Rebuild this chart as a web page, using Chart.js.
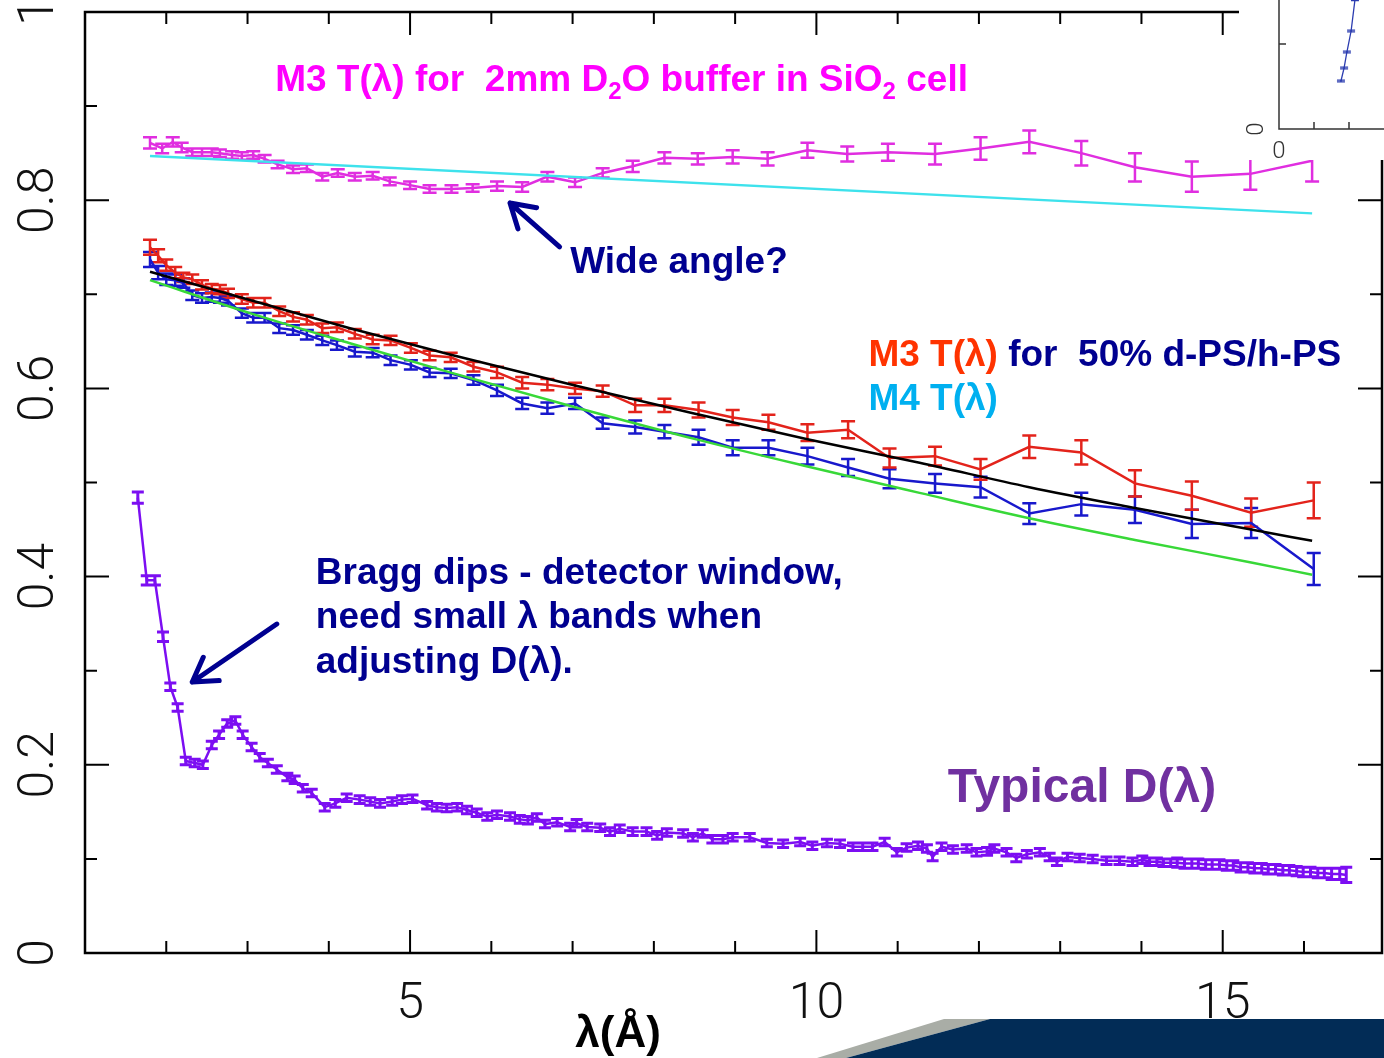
<!DOCTYPE html>
<html>
<head>
<meta charset="utf-8">
<title>T(λ) and D(λ)</title>
<script src="https://cdn.jsdelivr.net/npm/chart.js@4.4.0/dist/chart.umd.min.js"></script>
<style>
  html, body { margin: 0; padding: 0; background: #fff; overflow: hidden; }
  #wrap { position: relative; width: 1384px; height: 1058px; overflow: hidden; }
  #main { position: absolute; left: 0; top: 0; }
  #inset { position: absolute; left: 1239px; top: 0; }
</style>
</head>
<body>
<div id="wrap">
  <canvas id="main" width="1384" height="1058"></canvas>
  <canvas id="inset" width="145" height="160"></canvas>
</div>
<script>
// M3 T(lambda), 2mm D2O buffer in SiO2 cell
const lambdaD2O = [1.80, 1.95, 2.08, 2.19, 2.32, 2.44, 2.56, 2.66, 2.81, 2.93, 3.07, 3.21, 3.37, 3.56, 3.73, 3.92, 4.11, 4.32, 4.54, 4.75,
  5.00, 5.24, 5.51, 5.77, 6.07, 6.38, 6.69, 7.03, 7.37, 7.74, 8.13, 8.54, 8.97, 9.40, 9.89, 10.38, 10.88, 11.46, 12.02, 12.62,
  13.26, 13.92, 14.62, 15.34, 16.10];
const tD2O = [0.861, 0.855, 0.862, 0.856, 0.851, 0.851, 0.851, 0.850, 0.848, 0.847, 0.848, 0.844, 0.838, 0.833, 0.834, 0.825, 0.829, 0.825, 0.826, 0.820,
  0.816, 0.812, 0.812, 0.813, 0.815, 0.814, 0.825, 0.819, 0.829, 0.836, 0.845, 0.844, 0.846, 0.844, 0.853, 0.849, 0.851, 0.849, 0.855, 0.862,
  0.850, 0.835, 0.825, 0.828, 0.842];
const errD2O = [0.006, 0.005, 0.005, 0.005, 0.004, 0.004, 0.004, 0.004, 0.004, 0.004, 0.004, 0.004, 0.004, 0.004, 0.004, 0.004, 0.004, 0.004, 0.004, 0.004,
  0.004, 0.004, 0.004, 0.004, 0.005, 0.005, 0.005, 0.005, 0.005, 0.006, 0.006, 0.006, 0.007, 0.007, 0.008, 0.008, 0.009, 0.011, 0.012, 0.012,
  0.013, 0.015, 0.016, 0.017, 0.022];

// 50% d-PS/h-PS: M3 (red) and M4 (blue)
const lambdaPS = [1.80, 1.90, 2.00, 2.11, 2.21, 2.32, 2.44, 2.56, 2.66, 2.76, 2.93, 3.07, 3.21, 3.39, 3.56, 3.73, 3.92, 4.10, 4.32, 4.54,
  4.76, 5.01, 5.24, 5.50, 5.78, 6.07, 6.38, 6.69, 7.03, 7.37, 7.77, 8.13, 8.55, 8.97, 9.41, 9.89, 10.39, 10.90, 11.46, 12.02,
  12.62, 13.26, 13.92, 14.62, 15.35, 16.12];
const tM3 = [0.750, 0.741, 0.731, 0.723, 0.718, 0.716, 0.710, 0.706, 0.705, 0.701, 0.695, 0.691, 0.691, 0.682, 0.676, 0.673, 0.664, 0.665, 0.658, 0.652,
  0.651, 0.643, 0.635, 0.633, 0.623, 0.617, 0.606, 0.604, 0.600, 0.597, 0.582, 0.582, 0.577, 0.569, 0.564, 0.553, 0.556, 0.526, 0.528, 0.514,
  0.538, 0.532, 0.499, 0.486, 0.468, 0.481];
const errM3 = [0.008, 0.007, 0.006, 0.006, 0.005, 0.005, 0.005, 0.005, 0.005, 0.005, 0.005, 0.005, 0.005, 0.005, 0.005, 0.005, 0.005, 0.005, 0.005, 0.005,
  0.005, 0.005, 0.005, 0.005, 0.005, 0.006, 0.006, 0.006, 0.006, 0.006, 0.007, 0.007, 0.008, 0.008, 0.008, 0.009, 0.009, 0.010, 0.010, 0.011,
  0.012, 0.013, 0.014, 0.015, 0.015, 0.019];
const tM4 = [0.737, 0.723, 0.716, 0.715, 0.712, 0.699, 0.696, 0.697, 0.696, 0.693, 0.680, 0.675, 0.675, 0.664, 0.662, 0.657, 0.651, 0.646, 0.639, 0.638,
  0.630, 0.625, 0.617, 0.616, 0.609, 0.598, 0.584, 0.579, 0.584, 0.563, 0.559, 0.554, 0.548, 0.537, 0.537, 0.528, 0.516, 0.504, 0.499, 0.495,
  0.467, 0.477, 0.471, 0.456, 0.457, 0.408];
const errM4 = [0.008, 0.007, 0.006, 0.006, 0.005, 0.005, 0.005, 0.005, 0.005, 0.005, 0.005, 0.005, 0.005, 0.005, 0.005, 0.005, 0.005, 0.005, 0.005, 0.005,
  0.005, 0.005, 0.005, 0.005, 0.005, 0.006, 0.006, 0.006, 0.006, 0.006, 0.007, 0.007, 0.008, 0.008, 0.008, 0.009, 0.009, 0.010, 0.010, 0.011,
  0.011, 0.012, 0.014, 0.015, 0.016, 0.017];

// fitted curves
const lambdaFit = [1.80, 3.03, 4.26, 5.49, 7.03, 8.56, 9.89, 11.27, 12.62, 13.92, 15.35, 16.10];
const fitBlack = [0.724, 0.694, 0.664, 0.636, 0.603, 0.572, 0.546, 0.521, 0.495, 0.473, 0.450, 0.438];
const fitGreen = [0.715, 0.680, 0.648, 0.617, 0.580, 0.545, 0.517, 0.489, 0.462, 0.439, 0.415, 0.402];
const lambdaCyan = [1.80, 16.10];
const fitCyan = [0.847, 0.786];

// typical detector efficiency D(lambda)
const lambdaD = [1.65, 1.76, 1.86, 1.96, 2.05, 2.14, 2.24, 2.35, 2.45, 2.56, 2.65, 2.75, 2.85, 2.94, 3.05, 3.15, 3.25, 3.36, 3.49, 3.58,
  3.68, 3.79, 3.95, 4.08, 4.22, 4.38, 4.51, 4.63, 4.78, 4.90, 5.03, 5.21, 5.33, 5.45, 5.58, 5.70, 5.82, 5.95, 6.07, 6.23,
  6.35, 6.45, 6.56, 6.66, 6.81, 6.97, 7.05, 7.18, 7.34, 7.46, 7.58, 7.74, 7.91, 8.04, 8.16, 8.36, 8.48, 8.60, 8.72, 8.85,
  8.97, 9.18, 9.39, 9.59, 9.80, 9.95, 10.13, 10.29, 10.45, 10.57, 10.69, 10.84, 10.99, 11.11, 11.25, 11.36, 11.43, 11.54, 11.68, 11.85,
  11.97, 12.10, 12.19, 12.34, 12.46, 12.59, 12.75, 12.87, 12.96, 13.09, 13.24, 13.40, 13.57, 13.73, 13.89, 14.01, 14.10, 14.19, 14.27, 14.36,
  14.44, 14.53, 14.62, 14.70, 14.79, 14.87, 14.96, 15.05, 15.13, 15.22, 15.31, 15.39, 15.48, 15.56, 15.65, 15.74, 15.82, 15.91, 15.99, 16.08,
  16.17, 16.25, 16.34, 16.44, 16.52];
const valD = [0.484, 0.396, 0.396, 0.336, 0.283, 0.261, 0.204, 0.202, 0.200, 0.221, 0.232, 0.244, 0.247, 0.232, 0.219, 0.208, 0.202, 0.195, 0.187, 0.184,
  0.175, 0.170, 0.155, 0.159, 0.165, 0.163, 0.161, 0.159, 0.161, 0.163, 0.164, 0.157, 0.155, 0.154, 0.155, 0.152, 0.149, 0.145, 0.147, 0.145,
  0.142, 0.141, 0.144, 0.137, 0.139, 0.134, 0.138, 0.134, 0.133, 0.129, 0.132, 0.129, 0.129, 0.125, 0.128, 0.127, 0.123, 0.127, 0.121, 0.121,
  0.123, 0.123, 0.117, 0.116, 0.118, 0.114, 0.117, 0.116, 0.113, 0.113, 0.113, 0.118, 0.107, 0.112, 0.114, 0.111, 0.102, 0.113, 0.110, 0.111,
  0.107, 0.108, 0.111, 0.107, 0.101, 0.105, 0.107, 0.102, 0.097, 0.102, 0.101, 0.100, 0.098, 0.098, 0.097, 0.099, 0.097, 0.097, 0.096, 0.096,
  0.096, 0.095, 0.095, 0.095, 0.094, 0.094, 0.094, 0.093, 0.093, 0.091, 0.091, 0.090, 0.090, 0.089, 0.089, 0.088, 0.088, 0.087, 0.086, 0.086,
  0.085, 0.085, 0.084, 0.084, 0.083];
const errD = [0.006, 0.005, 0.005, 0.005, 0.004, 0.004, 0.004, 0.004, 0.004, 0.004, 0.004, 0.004, 0.004, 0.004, 0.004, 0.004, 0.004, 0.004, 0.004, 0.004,
  0.004, 0.004, 0.004, 0.004, 0.004, 0.004, 0.004, 0.004, 0.004, 0.004, 0.004, 0.004, 0.004, 0.004, 0.004, 0.004, 0.004, 0.004, 0.004, 0.004,
  0.004, 0.004, 0.004, 0.004, 0.004, 0.004, 0.004, 0.004, 0.004, 0.004, 0.004, 0.004, 0.004, 0.004, 0.004, 0.004, 0.004, 0.004, 0.004, 0.004,
  0.004, 0.004, 0.004, 0.004, 0.004, 0.004, 0.004, 0.004, 0.004, 0.004, 0.004, 0.004, 0.004, 0.004, 0.004, 0.004, 0.004, 0.004, 0.004, 0.004,
  0.004, 0.004, 0.004, 0.004, 0.004, 0.004, 0.004, 0.004, 0.004, 0.004, 0.004, 0.004, 0.004, 0.004, 0.004, 0.004, 0.004, 0.004, 0.004, 0.004,
  0.005, 0.005, 0.005, 0.005, 0.005, 0.005, 0.005, 0.005, 0.005, 0.005, 0.005, 0.005, 0.005, 0.005, 0.005, 0.005, 0.005, 0.005, 0.005, 0.005,
  0.005, 0.005, 0.006, 0.006, 0.008];

// axis ticks and labels
const xTicks = [2, 3, 4, 5, 6, 7, 8, 9, 10, 11, 12, 13, 14, 15, 16];
const xMajor = [5, 10, 15];
const xLabels = ["5", "10", "15"];
const yTicks = [0.1, 0.2, 0.3, 0.4, 0.5, 0.6, 0.7, 0.8, 0.9];
const yMajor = [0, 0.2, 0.4, 0.6, 0.8, 1];
const yLabels = ["0", "0.2", "0.4", "0.6", "0.8", "1"];

// piece of a neighbouring plot, top right
const insetX = [1.77, 1.86, 1.94, 2.06, 2.17, 2.30];
const insetY = [0.565, 0.718, 0.906, 1.153, 1.520, 1.850];

const BOLD = '"Liberation Sans", Arial, sans-serif';
const THIN = '300 50px Roboto, "Liberation Sans", sans-serif';
const NAVY = "#000090";

const pts = (xs, ys) => xs.map((x, i) => ({ x, y: ys[i] }));

// annotation anchors, in data units
const notes = {
  title: { x: 3.34, y: 0.916 },
  wide: { x: 6.97, y: 0.7225 },
  ps: { x: 10.64, y: 0.6238 },
  m4: { x: 10.64, y: 0.577 },
  bragg: [{ x: 3.84, y: 0.392 }, { x: 3.84, y: 0.3455 }, { x: 3.84, y: 0.2976 }],
  typical: { x: 11.615, y: 0.1605 },
  arrowWide: [{ x: 6.84, y: 0.7505 }, { x: 6.23, y: 0.797 }],
  arrowBragg: [{ x: 3.36, y: 0.3496 }, { x: 2.32, y: 0.288 }],
  xTitle: { x: 7.56, y: -0.1 }
};

const errorBars = {
  id: "errorBars",
  beforeDatasetsDraw(chart) {
    const { ctx, scales: { x, y } } = chart;
    chart.data.datasets.forEach((ds) => {
      if (!ds.errors) return;
      ctx.save();
      ctx.strokeStyle = ds.borderColor;
      ctx.lineWidth = ds.errWidth || 2.5;
      ctx.beginPath();
      ds.data.forEach((p, j) => {
        const px = x.getPixelForValue(p.x);
        const top = y.getPixelForValue(p.y + ds.errors[j]);
        const bot = y.getPixelForValue(p.y - ds.errors[j]);
        const w = ds.capHalf;
        ctx.moveTo(px, top); ctx.lineTo(px, bot);
        ctx.moveTo(px - w, top); ctx.lineTo(px + w, top);
        ctx.moveTo(px - w, bot); ctx.lineTo(px + w, bot);
      });
      ctx.stroke();
      ctx.restore();
    });
  }
};

function drawRuns(ctx, x, y, runs) {
  runs.forEach((r) => {
    ctx.font = r.font;
    ctx.fillStyle = r.color;
    ctx.fillText(r.text, x, y + (r.dy || 0));
    x += ctx.measureText(r.text).width;
  });
}

function arrow(ctx, from, to) {
  const ang = Math.atan2(to.y - from.y, to.x - from.x);
  ctx.beginPath();
  ctx.moveTo(from.x, from.y);
  ctx.lineTo(to.x, to.y);
  [-1, 1].forEach((s) => {
    ctx.moveTo(to.x, to.y);
    ctx.lineTo(to.x - 27 * Math.cos(ang + s * 0.55), to.y - 27 * Math.sin(ang + s * 0.55));
  });
  ctx.stroke();
}

const decorations = {
  id: "decorations",
  afterDraw(chart) {
    const { ctx, chartArea: a, scales: { x, y } } = chart;
    const P = (p) => ({ x: x.getPixelForValue(p.x), y: y.getPixelForValue(p.y) });
    ctx.save();

    // frame and inward ticks
    ctx.strokeStyle = "#000";
    ctx.lineWidth = 2.5;
    ctx.strokeRect(a.left, a.top, a.right - a.left, a.bottom - a.top);
    ctx.lineWidth = 2;
    ctx.beginPath();
    xTicks.forEach((v) => {
      const px = x.getPixelForValue(v);
      const len = xMajor.includes(v) ? 23 : 12;
      ctx.moveTo(px, a.bottom); ctx.lineTo(px, a.bottom - len);
      ctx.moveTo(px, a.top); ctx.lineTo(px, a.top + len);
    });
    yTicks.forEach((v) => {
      const py = y.getPixelForValue(v);
      const len = yMajor.includes(v) ? 24 : 12;
      ctx.moveTo(a.left, py); ctx.lineTo(a.left + len, py);
      ctx.moveTo(a.right, py); ctx.lineTo(a.right - len, py);
    });
    ctx.stroke();

    // tick labels
    ctx.fillStyle = "#111";
    ctx.font = THIN;
    ctx.textAlign = "center";
    ctx.textBaseline = "alphabetic";
    xMajor.forEach((v, i) => ctx.fillText(xLabels[i], x.getPixelForValue(v), a.bottom + 65));
    yMajor.forEach((v, i) => {
      ctx.save();
      ctx.translate(53, y.getPixelForValue(v));
      ctx.rotate(-Math.PI / 2);
      ctx.fillText(yLabels[i], 0, 0);
      ctx.restore();
    });

    // axis title
    ctx.font = "bold 44px " + BOLD;
    ctx.fillStyle = "#000";
    const xt = P(notes.xTitle);
    ctx.fillText("λ(Å)", xt.x, xt.y);

    // annotations
    ctx.textAlign = "left";
    const big = "bold 37px " + BOLD;
    const sub = "bold 24px " + BOLD;
    const t = P(notes.title);
    drawRuns(ctx, t.x, t.y, [
      { text: "M3 T(λ) for  2mm D", font: big, color: "#ff00ff" },
      { text: "2", font: sub, color: "#ff00ff", dy: 8 },
      { text: "O buffer in SiO", font: big, color: "#ff00ff" },
      { text: "2", font: sub, color: "#ff00ff", dy: 8 },
      { text: " cell", font: big, color: "#ff00ff" }
    ]);
    const w = P(notes.wide);
    drawRuns(ctx, w.x, w.y, [{ text: "Wide angle?", font: big, color: NAVY }]);
    const ps = P(notes.ps);
    drawRuns(ctx, ps.x, ps.y, [
      { text: "M3 T(λ)", font: big, color: "#ff3300" },
      { text: " for  50% d-PS/h-PS", font: big, color: NAVY }
    ]);
    const m4 = P(notes.m4);
    drawRuns(ctx, m4.x, m4.y, [{ text: "M4 T(λ)", font: big, color: "#00b0f0" }]);
    ["Bragg dips - detector window,", "need small λ bands when", "adjusting D(λ)."].forEach((line, i) => {
      const b = P(notes.bragg[i]);
      drawRuns(ctx, b.x, b.y, [{ text: line, font: big, color: NAVY }]);
    });
    const ty = P(notes.typical);
    drawRuns(ctx, ty.x, ty.y, [{ text: "Typical D(λ)", font: "bold 48px " + BOLD, color: "#7030a0" }]);

    ctx.strokeStyle = NAVY;
    ctx.lineWidth = 5;
    ctx.lineCap = "round";
    arrow(ctx, P(notes.arrowWide[0]), P(notes.arrowWide[1]));
    arrow(ctx, P(notes.arrowBragg[0]), P(notes.arrowBragg[1]));

    // slide footer band
    ctx.fillStyle = "#a9ada6";
    ctx.beginPath();
    ctx.moveTo(944, 1019); ctx.lineTo(990, 1019); ctx.lineTo(846, 1058); ctx.lineTo(817, 1058);
    ctx.closePath(); ctx.fill();
    ctx.fillStyle = "#022c56";
    ctx.beginPath();
    ctx.moveTo(990, 1019); ctx.lineTo(1384, 1019); ctx.lineTo(1384, 1058); ctx.lineTo(846, 1058);
    ctx.closePath(); ctx.fill();
    ctx.restore();
  }
};

const line = (label, xs, ys, color, width, extra) => Object.assign({
  label,
  data: pts(xs, ys),
  showLine: true,
  borderColor: color,
  backgroundColor: color,
  borderWidth: width,
  pointRadius: 0,
  tension: 0
}, extra || {});

new Chart(document.getElementById("main"), {
  type: "scatter",
  data: {
    datasets: [
      line("cyan fit", lambdaCyan, fitCyan, "#3ee2ec", 2.5, { order: 0 }),
      line("black fit", lambdaFit, fitBlack, "#000000", 2.5, { order: 0, cubicInterpolationMode: "monotone" }),
      line("green fit", lambdaFit, fitGreen, "#38d838", 2.5, { order: 0, cubicInterpolationMode: "monotone" }),
      line("M3 D2O", lambdaD2O, tD2O, "#e02ee0", 2.5, { order: 1, errors: errD2O, capHalf: 7 }),
      line("M4 PS", lambdaPS, tM4, "#1818cc", 2.5, { order: 1, errors: errM4, capHalf: 7 }),
      line("M3 PS", lambdaPS, tM3, "#e3231b", 2.5, { order: 2, errors: errM3, capHalf: 7 }),
      line("D", lambdaD, valD, "#7c0ef2", 2.5, { order: 3, errors: errD, capHalf: 6, errWidth: 3 })
    ]
  },
  options: {
    responsive: false,
    animation: false,
    devicePixelRatio: 1,
    layout: { padding: { left: 85, right: 2, top: 12, bottom: 105 } },
    plugins: { legend: { display: false }, tooltip: { enabled: false } },
    scales: {
      x: { type: "linear", min: 1, max: 16.96, display: false },
      y: { type: "linear", min: 0, max: 1, display: false }
    }
  },
  plugins: [errorBars, decorations]
});

const insetFrame = {
  id: "insetFrame",
  beforeDraw(chart) {
    const { ctx, width, height } = chart;
    ctx.save();
    ctx.fillStyle = "#fff";
    ctx.fillRect(0, 0, width, height);
    ctx.restore();
  },
  afterDraw(chart) {
    const { ctx, chartArea: a, scales: { x, y } } = chart;
    ctx.save();
    ctx.strokeStyle = "#333";
    ctx.lineWidth = 1.5;
    ctx.beginPath();
    ctx.moveTo(a.left, a.top); ctx.lineTo(a.left, a.bottom); ctx.lineTo(a.right, a.bottom);
    const py = y.getPixelForValue(1);
    ctx.moveTo(a.left, py); ctx.lineTo(a.left + 7, py);
    [1, 2].forEach((v) => {
      const px = x.getPixelForValue(v);
      ctx.moveTo(px, a.bottom); ctx.lineTo(px, a.bottom - 7);
    });
    ctx.stroke();
    ctx.fillStyle = "#333";
    ctx.font = '300 24px Roboto, "Liberation Sans", sans-serif';
    ctx.textAlign = "center";
    ctx.fillText("0", a.left, a.bottom + 29);
    ctx.translate(a.left - 16, a.bottom);
    ctx.rotate(-Math.PI / 2);
    ctx.fillText("0", 0, 0);
    ctx.restore();
  }
};

new Chart(document.getElementById("inset"), {
  type: "scatter",
  data: {
    datasets: [
      line("inset", insetX, insetY, "#2b3cb0", 1.3, { errors: [0.01, 0.01, 0.01, 0.01, 0.01, 0.01], capHalf: 4, errWidth: 1.3 })
    ]
  },
  options: {
    responsive: false,
    animation: false,
    devicePixelRatio: 1,
    layout: { padding: { left: 40, right: 0, top: 0, bottom: 31 } },
    plugins: { legend: { display: false }, tooltip: { enabled: false } },
    scales: {
      x: { type: "linear", min: 0, max: 3, display: false },
      y: { type: "linear", min: 0, max: 1.518, display: false }
    }
  },
  plugins: [errorBars, insetFrame]
});
</script>
</body>
</html>
